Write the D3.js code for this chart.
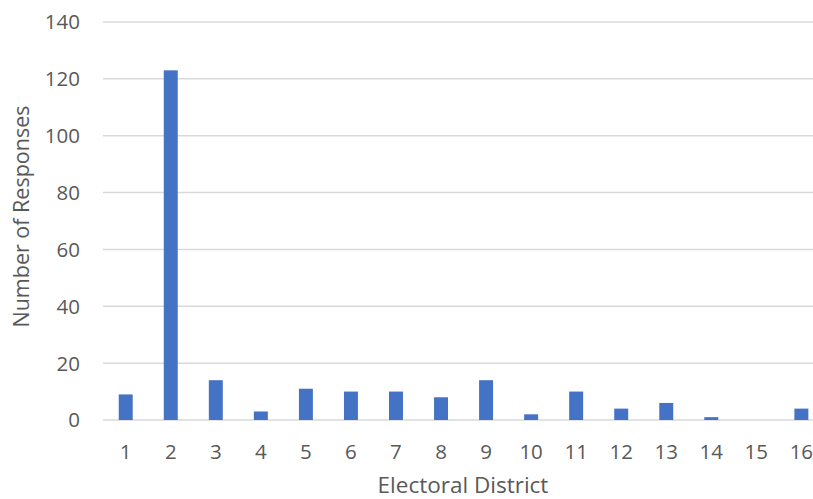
<!DOCTYPE html>
<html><head><meta charset="utf-8">
<script src="https://cdn.jsdelivr.net/npm/d3@7"></script>
<style>
html,body{margin:0;padding:0;background:#fff;}
text{font-family:"Open Sans",sans-serif;fill:#595959;}
</style></head>
<body><svg id="c" width="813" height="499"></svg>
<script>
const categories = ["1","2","3","4","5","6","7","8","9","10","11","12","13","14","15","16"];
const values = [9,123,14,3,11,10,10,8,14,2,10,4,6,1,0,4];
const yTicks = [0,20,40,60,80,100,120,140];
const xTitle = "Electoral District";
const yTitle = "Number of Responses";

const svg = d3.select("#c");
const x = d3.scaleBand().domain(categories).range([103.2, 823.9]).padding(0);
const y = d3.scaleLinear().domain([0,140]).range([420,22]);
const barW = x.bandwidth()*0.31;

svg.append("g").selectAll("line").data(yTicks).join("line")
  .attr("x1",103).attr("x2",813)
  .attr("y1",d=>y(d)).attr("y2",d=>y(d))
  .attr("stroke","#d9d9d9").attr("stroke-width",1.5);

svg.append("g").selectAll("rect").data(values).join("rect")
  .attr("x",(d,i)=>x(categories[i])+x.bandwidth()/2-barW/2)
  .attr("width",barW)
  .attr("y",d=>y(d)).attr("height",d=>y(0)-y(d))
  .attr("fill","#4472C4");

svg.append("g").selectAll("text").data(yTicks).join("text")
  .attr("x",80).attr("y",d=>y(d)).attr("dy","0.36em")
  .attr("text-anchor","end").attr("font-size",20.5).text(d=>d);

svg.append("g").selectAll("text").data(categories).join("text")
  .attr("x",d=>x(d)+x.bandwidth()/2).attr("y",458.5)
  .attr("text-anchor","middle").attr("font-size",20.5).text(d=>d);

svg.append("text").attr("x",463).attr("y",493).attr("text-anchor","middle")
  .attr("font-size",22.5).text(xTitle);
svg.append("text").attr("transform","translate(28.5,216.5) rotate(-90)")
  .attr("text-anchor","middle").attr("font-size",21.5).text(yTitle);
</script></body></html>
